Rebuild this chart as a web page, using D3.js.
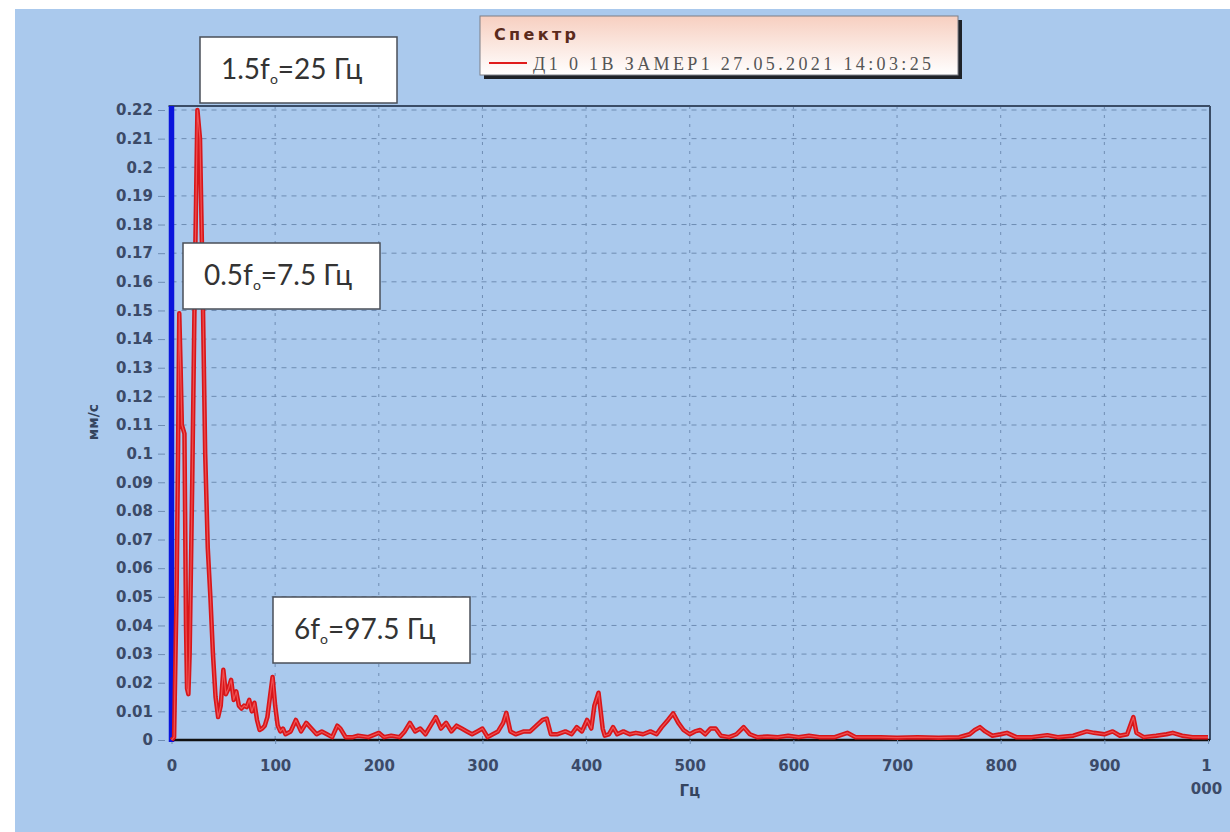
<!DOCTYPE html>
<html>
<head>
<meta charset="utf-8">
<script src="https://cdn.jsdelivr.net/npm/d3@7"></script>
<style>
  body { margin: 0; background: #fff; }
  svg { display: block; }
</style>
</head>
<body>
<div id="chart"></div>
<script>
/* spectrum data */
var freqHz = [0, 2.5, 5, 6.3, 7.5, 8.8, 10, 12.5, 14, 15, 16.3, 17.5, 20, 22.5, 25, 27.5, 30, 32.5, 35, 37.5,
  40, 42.5, 45, 47.5, 50, 52.5, 55, 57.5, 60, 62.5, 65, 67.5, 70, 72.5, 75, 77.5, 80, 82.5, 85, 87.5,
  90, 92.5, 95, 97.5, 100, 102.5, 105, 107.5, 110, 115, 120, 122.5, 125, 130, 135, 140, 145, 150, 155, 160,
  163, 168, 175, 180, 190, 200, 205, 212, 220, 225, 230, 235, 240, 245, 250, 255, 260, 265, 270, 275,
  280, 285, 290, 295, 300, 305, 310, 315, 320, 323, 327, 332, 340, 346, 352, 358, 362, 366, 372, 380,
  386, 391, 396, 401, 405, 408, 412, 416, 418, 422, 426, 430, 436, 442, 448, 455, 462, 468, 473, 479,
  484, 489, 494, 500, 505, 510, 515, 520, 525, 530, 538, 545, 552, 558, 565, 575, 585, 595, 605, 615,
  625, 640, 652, 660, 672, 684, 700, 720, 740, 760, 770, 775, 780, 785, 792, 800, 806, 815, 830, 845,
  855, 870, 883, 890, 900, 908, 915, 922, 926, 928, 931, 938, 950, 960, 966, 975, 985, 1000];
var amplitude = [0, 0.001, 0.054, 0.1, 0.149, 0.13, 0.11, 0.107, 0.04, 0.018, 0.016, 0.03, 0.09, 0.16, 0.22, 0.21, 0.16, 0.1, 0.067, 0.05,
  0.03, 0.015, 0.008, 0.012, 0.0245, 0.016, 0.018, 0.021, 0.014, 0.017, 0.012, 0.011, 0.012, 0.0115, 0.014, 0.01, 0.013, 0.007, 0.0035, 0.004,
  0.005, 0.008, 0.015, 0.022, 0.012, 0.005, 0.003, 0.004, 0.002, 0.003, 0.007, 0.005, 0.003, 0.006, 0.004, 0.002, 0.003, 0.002, 0.001, 0.005,
  0.004, 0.001, 0.001, 0.0015, 0.001, 0.0025, 0.001, 0.0015, 0.001, 0.003, 0.006, 0.003, 0.004, 0.002, 0.005, 0.008, 0.004, 0.006, 0.003, 0.005,
  0.004, 0.003, 0.002, 0.003, 0.004, 0.001, 0.002, 0.003, 0.006, 0.0095, 0.003, 0.002, 0.003, 0.003, 0.005, 0.007, 0.0075, 0.002, 0.002, 0.003,
  0.002, 0.0045, 0.003, 0.007, 0.004, 0.012, 0.0165, 0.004, 0.0015, 0.002, 0.0045, 0.002, 0.003, 0.002, 0.0025, 0.002, 0.003, 0.002, 0.0045, 0.007,
  0.0093, 0.006, 0.0035, 0.002, 0.003, 0.0035, 0.002, 0.004, 0.004, 0.0015, 0.001, 0.002, 0.0045, 0.002, 0.001, 0.0012, 0.001, 0.0015, 0.001, 0.0015,
  0.001, 0.001, 0.0025, 0.001, 0.001, 0.001, 0.0008, 0.001, 0.0008, 0.001, 0.002, 0.0035, 0.0045, 0.003, 0.0015, 0.002, 0.0025, 0.001, 0.001, 0.0017,
  0.001, 0.0015, 0.003, 0.0025, 0.002, 0.003, 0.0015, 0.002, 0.006, 0.008, 0.0025, 0.001, 0.0015, 0.002, 0.0025, 0.0015, 0.001, 0.001];

var xTicks = [0, 100, 200, 300, 400, 500, 600, 700, 800, 900, 1000];
var yTicks = [0, 0.01, 0.02, 0.03, 0.04, 0.05, 0.06, 0.07, 0.08, 0.09, 0.1, 0.11,
  0.12, 0.13, 0.14, 0.15, 0.16, 0.17, 0.18, 0.19, 0.2, 0.21, 0.22];

var legendTitle = "Спектр";
var seriesName = "Д1 0 1В ЗАМЕР1 27.05.2021 14:03:25";
var xTitle = "Гц";
var yTitle = "мм/с";
// annotation text: [before subscript, subscript, after]
var notes = [["1.5f", "o", "=25 Гц"], ["0.5f", "o", "=7.5 Гц"], ["6f", "o", "=97.5 Гц"]];

/* layout */
var W = 1230, H = 832;
var plotLeft = 171.5, plotRight = 1208, plotTop = 106, plotBottom = 740;
var frameRight = 1210;
var notePos = [[200, 37], [183, 243], [273, 597]];
var noteW = 197, noteH = 66;

var svg = d3.select("#chart").append("svg")
  .attr("width", W)
  .attr("height", H)
  .style("font-family", "'DejaVu Sans', sans-serif");

var defs = svg.append("defs");
var grad = defs.append("linearGradient").attr("id", "legbg")
  .attr("x1", 0).attr("y1", 0).attr("x2", 0).attr("y2", 1);
grad.append("stop").attr("offset", "0%").attr("stop-color", "#f7cfc0");
grad.append("stop").attr("offset", "100%").attr("stop-color", "#ffffff");

svg.append("rect").attr("x", 15).attr("y", 9).attr("width", W - 15).attr("height", H - 9)
  .attr("fill", "#aac9ed");

var x = d3.scaleLinear().domain([0, 1000]).range([plotLeft, plotRight]);
var y = d3.scaleLinear().domain([0, 0.22]).range([plotBottom, 110]);

// grid
var grid = svg.append("g");
grid.selectAll("line.h").data(yTicks.filter(function(d) { return d > 0; }))
  .enter().append("line")
  .attr("x1", plotLeft).attr("x2", frameRight)
  .attr("y1", function(d) { return y(d); })
  .attr("y2", function(d) { return y(d); })
  .attr("stroke", "#6f8db3")
  .attr("stroke-width", 1)
  .attr("stroke-dasharray", "5,5");
grid.selectAll("line.v").data(xTicks.filter(function(d) { return d > 0 && d < 1000; }))
  .enter().append("line")
  .attr("x1", function(d) { return x(d); })
  .attr("x2", function(d) { return x(d); })
  .attr("y1", plotTop).attr("y2", plotBottom)
  .attr("stroke", "#6f8db3")
  .attr("stroke-width", 1)
  .attr("stroke-dasharray", "3,6");

// frame
svg.append("line").attr("x1", plotLeft - 3).attr("x2", frameRight).attr("y1", plotTop).attr("y2", plotTop)
  .attr("stroke", "#3a4c66").attr("stroke-width", 2);
svg.append("line").attr("x1", frameRight).attr("x2", frameRight).attr("y1", plotTop).attr("y2", plotBottom)
  .attr("stroke", "#3a4c66").attr("stroke-width", 2);
svg.append("line").attr("x1", plotLeft).attr("x2", frameRight).attr("y1", plotBottom).attr("y2", plotBottom)
  .attr("stroke", "#111").attr("stroke-width", 2.5);

// axes
var yAxis = svg.append("g")
  .attr("transform", "translate(165,0)")
  .call(d3.axisLeft(y).tickValues(yTicks).tickFormat(d3.format("~g")).tickSize(7).tickPadding(5));
var xAxis = svg.append("g")
  .attr("transform", "translate(0," + plotBottom + ")")
  .call(d3.axisBottom(x).tickValues(xTicks).tickSize(4).tickPadding(16)
    .tickFormat(function(d) { return d == 1000 ? "" : d; }));

[yAxis, xAxis].forEach(function(a) {
  a.select(".domain").remove();
  a.selectAll(".tick line").attr("stroke", "#6f8db3");
  a.selectAll("text")
    .attr("fill", "#3b4a68")
    .style("font-size", "15px")
    .style("font-weight", "bold")
    .style("font-family", "'DejaVu Sans', sans-serif");
});

// "1 000" wraps onto two lines
var last = xAxis.selectAll(".tick").filter(function(d) { return d == 1000; }).select("text");
last.append("tspan").attr("x", -2).text("1");
last.append("tspan").attr("x", -2).attr("dy", "1.55em").text("000");

// axis titles
svg.append("text")
  .attr("transform", "translate(98,422) rotate(-90)")
  .attr("text-anchor", "middle")
  .attr("fill", "#34445e")
  .style("font-size", "14px")
  .style("font-weight", "bold")
  .text(yTitle);
svg.append("text")
  .attr("x", x(500)).attr("y", 796)
  .attr("text-anchor", "middle")
  .attr("fill", "#34445e")
  .style("font-size", "15px")
  .style("font-weight", "bold")
  .text(xTitle);

// blue marker at 0 Hz
svg.append("line")
  .attr("x1", x(0)).attr("x2", x(0))
  .attr("y1", plotTop).attr("y2", plotBottom + 2)
  .attr("stroke", "#0a14dc").attr("stroke-width", 5.5);

// spectrum
var pts = freqHz.map(function(f, i) { return [f, amplitude[i]]; });
var line = d3.line()
  .x(function(d) { return x(d[0]); })
  .y(function(d) { return y(d[1]); });
svg.append("path").datum(pts)
  .attr("d", line)
  .attr("fill", "none")
  .attr("stroke", "#d8161a")
  .attr("stroke-width", 4.5)
  .attr("stroke-linejoin", "round");
svg.append("path").datum(pts)
  .attr("d", line)
  .attr("fill", "none")
  .attr("stroke", "#ff7a7a")
  .attr("stroke-width", 1.2)
  .attr("stroke-opacity", 0.6)
  .attr("stroke-linejoin", "round");

// annotation boxes
var ng = svg.selectAll("g.note").data(notes).enter().append("g")
  .attr("class", "note")
  .attr("transform", function(d, i) { return "translate(" + notePos[i][0] + "," + notePos[i][1] + ")"; });
ng.append("rect")
  .attr("width", noteW).attr("height", noteH)
  .attr("fill", "#fff")
  .attr("stroke", "#4a4f58")
  .attr("stroke-width", 1.5);
var nt = ng.append("text")
  .attr("x", 21).attr("y", 42)
  .attr("fill", "#333")
  .style("font-family", "Lato, 'Open Sans', sans-serif")
  .style("font-size", "28px");
nt.append("tspan").text(function(d) { return d[0]; });
nt.append("tspan").attr("dy", 5).style("font-size", "14px").text(function(d) { return d[1]; });
nt.append("tspan").attr("dy", -5).text(function(d) { return d[2]; });

// legend
var lg = svg.append("g").attr("transform", "translate(480,16)");
lg.append("rect").attr("x", 4).attr("y", 4).attr("width", 478).attr("height", 59).attr("fill", "#1e2228");
lg.append("rect").attr("width", 478).attr("height", 59)
  .attr("fill", "url(#legbg)").attr("stroke", "#7d7f86").attr("stroke-width", 1);
lg.append("text").attr("x", 14).attr("y", 24)
  .attr("fill", "#5a2a1c")
  .attr("textLength", 82).attr("lengthAdjust", "spacing")
  .style("font-size", "16px").style("font-weight", "bold")
  .text(legendTitle);
lg.append("line").attr("x1", 9).attr("x2", 47).attr("y1", 47).attr("y2", 47)
  .attr("stroke", "#e01c1c").attr("stroke-width", 2);
lg.append("text").attr("x", 53).attr("y", 54)
  .attr("fill", "#555")
  .attr("textLength", 398).attr("lengthAdjust", "spacing")
  .style("font-family", "'Liberation Serif', serif")
  .style("font-size", "18px")
  .text(seriesName);
</script>
</body>
</html>
